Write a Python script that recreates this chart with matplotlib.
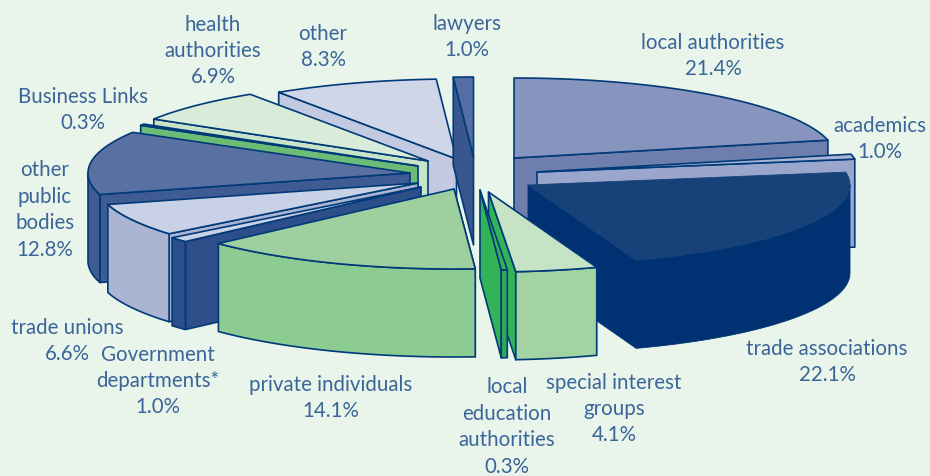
import numpy as np
import matplotlib
matplotlib.use("Agg")
import matplotlib.pyplot as plt
from matplotlib.patches import Polygon

# ---- data (clockwise from 12 o'clock) ----
categories = ["local authorities", "academics", "trade associations", "special interest\ngroups",
              "local\neducation\nauthorities", "private individuals", "Government\ndepartments*",
              "trade unions", "other\npublic\nbodies", "Business Links", "health\nauthorities",
              "other", "lawyers"]
values = [21.4, 1.0, 22.1, 4.1, 0.3, 14.1, 1.0, 6.6, 12.8, 0.3, 6.9, 8.3, 1.0]

# ---- layout / style ----
RX, RY, DEPTH = 322, 80, 88
BG = "#e9f5ea"
LINE = "#003a78"
TEXT = "#3a6599"
apex = [(514, 158), (537, 172), (528, 185), (488.5, 192), (480, 190), (454, 189), (421, 187),
        (418, 183), (410, 173), (418, 166), (428, 161), (456.5, 159), (473.5, 157)]
top_col = ["#8794be", "#a9b3d3", "#164279", "#c6e3c6", "#33b358", "#9ed09f", "#c9d1e6",
           "#c9d1e6", "#5970a3", "#7cc585", "#d9ecd9", "#cfd6e8", "#546ea3"]
side_col = ["#6f7fad", "#9aa6cc", "#003273", "#a3d3a3", "#2fa858", "#8ccb91", "#2c4f8a",
            "#abb4d2", "#3f5b93", "#6cbc78", "#c8e4c8", "#c2c9e0", "#3a568f"]
cut_col = ["#6f7fad", "#9aa6cc", "#003273", "#33b358", "#33b358", "#8ccb91", "#2c4f8a",
           "#abb4d2", "#3f5b93", "#6cbc78", "#c8e4c8", "#c2c9e0", "#3a568f"]
has_edge = [True, True, False, True, True, True, True, True, True, True, True, True, True]
order = [0, 1, 11, 12, 10, 9, 8, 7, 6, 5, 2, 3, 4]
label_xy = [(713, 56), (880, 139), (827, 362), (614, 409), (507, 427), (331, 398), (158, 381),
            (67, 341), (45, 210), (83, 110), (213, 51), (323, 47), (467, 37)]

fig = plt.figure(figsize=(9.3, 4.76), dpi=100, facecolor=BG)
ax = fig.add_axes([0, 0, 1, 1])
ax.set_xlim(0, 930)
ax.set_ylim(476, 0)
ax.axis("off")

edges = np.cumsum([0] + values) / sum(values) * 360.0


def rim(c, t0, t1, n=60):
    t = np.radians(np.linspace(t0, t1, n))
    return np.column_stack([c[0] + RX * np.sin(t), c[1] - RY * np.cos(t)])


def shape(pts, face, edge, z):
    ec = LINE if edge else face
    ax.add_patch(Polygon(pts, closed=True, fc=face, ec=ec, lw=1.2 if edge else 0.6,
                         joinstyle="round", zorder=z))


z = 1
for i in order:
    t0, t1 = edges[i], edges[i + 1]
    c = np.array(apex[i], float)
    drop = np.array([0, DEPTH])
    # cut face, on whichever side faces the viewer
    cut = t1 if t1 <= 180 else t0
    p = rim(c, cut, cut, 1)[0]
    shape([c, p, p + drop, c + drop], cut_col[i], has_edge[i], z)
    z += 1
    # outer wall: only the front half of the rim
    a, b = max(t0, 90), min(t1, 270)
    if b > a:
        r = rim(c, a, b)
        shape(np.vstack([r, (r + drop)[::-1]]), side_col[i], has_edge[i], z)
        z += 1
    # top face
    shape(np.vstack([c, rim(c, t0, t1)]), top_col[i], has_edge[i], z)
    z += 1

for name, v, (x, y) in zip(categories, values, label_xy):
    ax.text(x, y, f"{name}\n{v:.1f}%", ha="center", va="center", color=TEXT,
            fontsize=14.8, family="Lato", linespacing=1.4, zorder=100)

fig.savefig("out.png", dpi=100, facecolor=BG)
